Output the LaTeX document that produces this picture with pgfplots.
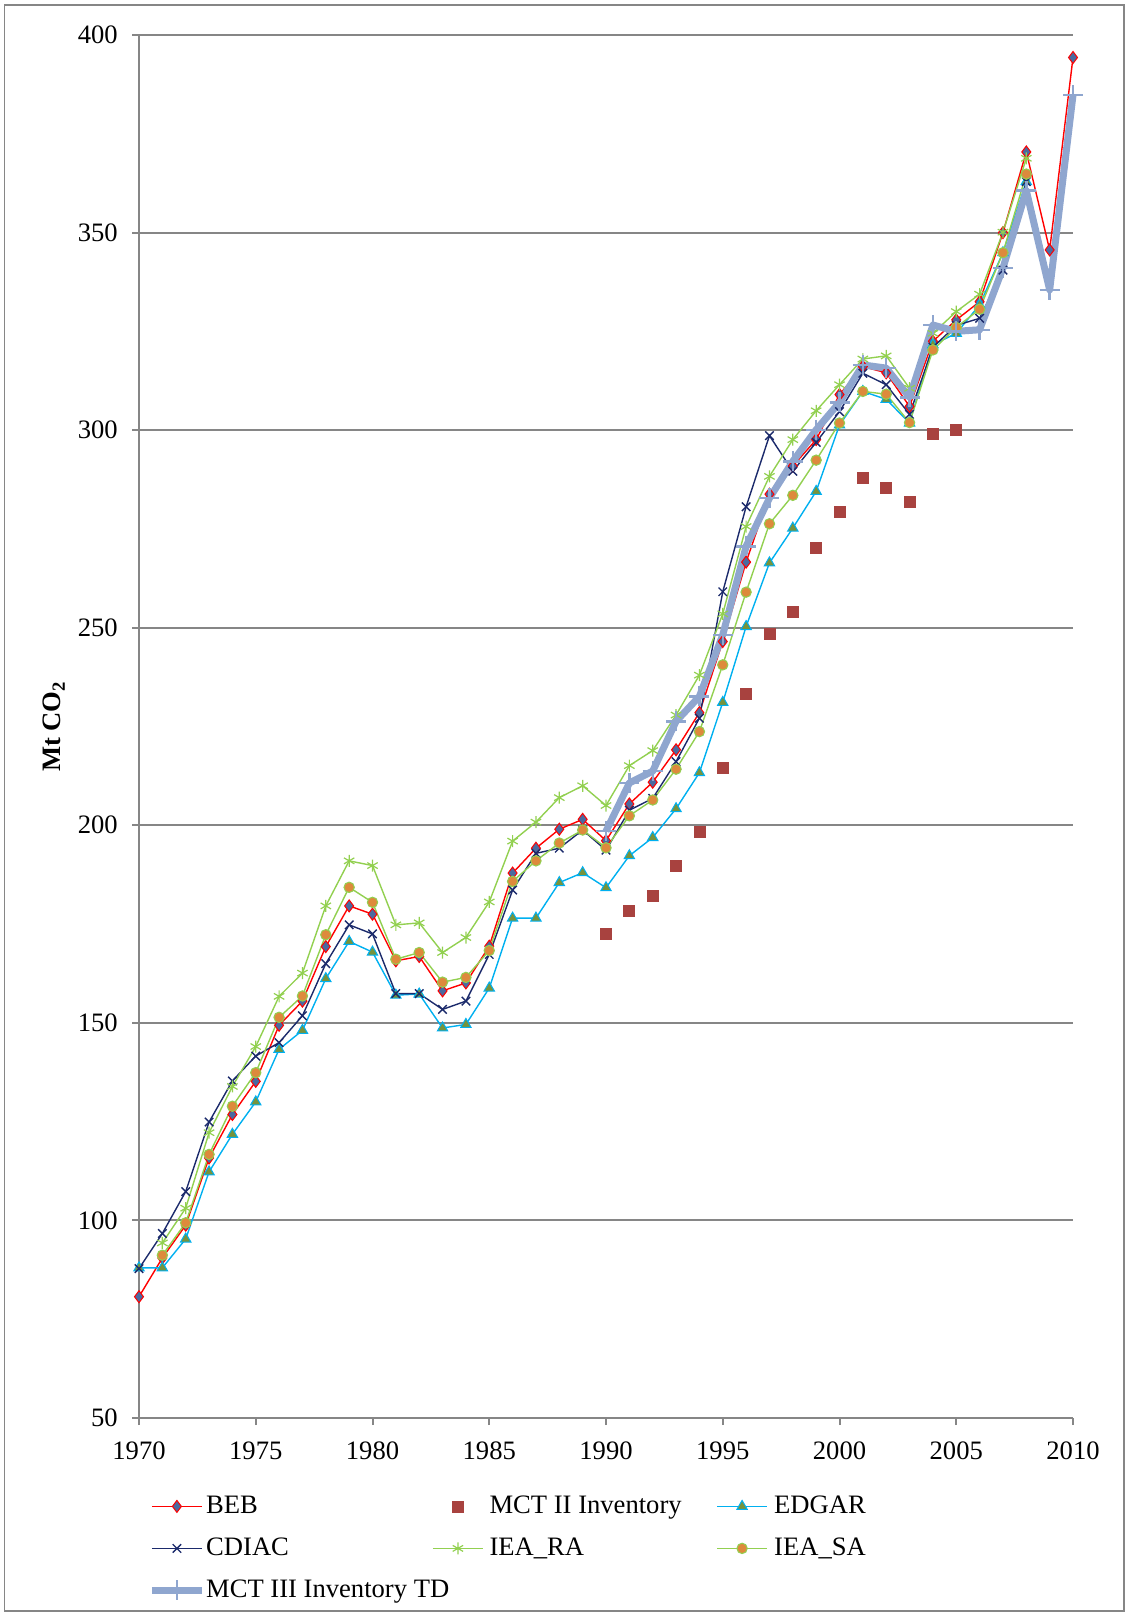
\documentclass[border=0pt]{standalone}
\usepackage{fontspec}
\setmainfont{Liberation Serif}
\usepackage{pgfplots}
\pgfplotsset{compat=1.18}
\usetikzlibrary{plotmarks}
\definecolor{gridgray}{HTML}{868686}
\definecolor{bebred}{HTML}{FF0000}
\definecolor{bebfill}{HTML}{4A6AA0}
\definecolor{mcttwo}{HTML}{A8423F}
\definecolor{edgar}{HTML}{00B0F0}
\definecolor{edgarfill}{HTML}{77933C}
\definecolor{cdiac}{HTML}{1B2A6B}
\definecolor{ieagreen}{HTML}{92D050}
\definecolor{ieaorange}{HTML}{DD8A3C}
\definecolor{mctthree}{HTML}{8FA6CF}
\begin{document}
\fontsize{13.3pt}{16pt}\selectfont
\begin{tikzpicture}
\useasboundingbox (-69.5pt,-99pt) rectangle (495pt,709pt);
\draw[gridgray, line width=0.75pt] (-67.25pt,-96.5pt) rectangle (492.5pt,706.5pt);
\begin{axis}[
  at={(0pt,0pt)}, anchor=south west,
  scale only axis, width=467pt, height=691.5pt,
  xmin=1970, xmax=2010, ymin=50, ymax=400,
  xtick={1970,1975,...,2010}, ytick={50,100,...,400},
  axis x line*=bottom, axis y line*=left,
  axis line style={gridgray, line width=1pt, -},
  ymajorgrids, grid style={gridgray, line width=1pt},
  tick style={gridgray, line width=1pt},
  tick align=outside, major tick length=3.5pt,
  /pgf/number format/assume math mode=true,
  /pgf/number format/set thousands separator={},
  ticklabel style={font=\fontsize{13.3pt}{16pt}\selectfont},
  xticklabel style={yshift=-4pt},
  yticklabel style={xshift=-2.5pt},
  ylabel={\textbf{Mt CO\textsubscript{2}}},
  every axis y label/.style={at={(axis description cs:-0.091,0.5)}, rotate=90, anchor=center, font=\fontsize{13.3pt}{16pt}\selectfont},
  clip=false,
  legend columns=3,
  legend cell align=left,
  legend style={at={(0,0)}, anchor=north west, xshift=4.5pt, yshift=-37.5pt,
    draw=none, fill=none, inner sep=0pt, row sep=8pt,
    nodes={inner sep=0pt, text height=10pt, text depth=3pt},
    /tikz/every odd column/.append style={column sep=0.4pt},
    /tikz/every even column/.append style={column sep=3pt},
    font=\fontsize{13.3pt}{16pt}\selectfont},
  legend image code/.code={\draw[mark repeat=2,mark phase=2,#1] plot coordinates {(0pt,0pt) (12.5pt,0pt) (25pt,0pt)};},
]
% BEB
\addplot[color=bebred, line width=0.7pt, mark=diamond*, mark size=3pt, mark options={fill=bebfill, draw=bebred, line width=0.5pt}] coordinates {
(1970,80.7) (1971,90.5) (1972,98.8) (1973,115.8) (1974,126.8) (1975,135.2) (1976,149.4) (1977,155.5) (1978,169.3) (1979,179.6)
(1980,177.5) (1981,165.7) (1982,166.8) (1983,158.1) (1984,160.1) (1985,169.4) (1986,187.9) (1987,194.2) (1988,199.0) (1989,201.5)
(1990,196.1) (1991,205.4) (1992,210.9) (1993,219.1) (1994,228.5) (1995,246.5) (1996,266.6) (1997,283.8) (1998,290.9) (1999,297.6)
(2000,309.0) (2001,316.1) (2002,314.5) (2003,306.0) (2004,322.5) (2005,327.9) (2006,332.5) (2007,350.0) (2008,370.4) (2009,345.6) (2010,394.3)};
\addlegendentry{\makebox[110pt][l]{BEB}}
% MCT II
\addplot[only marks, mark=square*, mark size=2.75pt, color=mcttwo] coordinates {
(1990,172.4) (1991,178.3) (1992,182.1) (1993,189.7) (1994,198.3) (1995,214.5) (1996,233.2) (1997,248.4) (1998,254.0) (1999,270.2)
(2000,279.2) (2001,287.9) (2002,285.4) (2003,281.8) (2004,299.0) (2005,300.0)};
\addlegendentry{\makebox[113pt][l]{\hspace{2.6pt}MCT II Inventory}}
% EDGAR
\addplot[color=edgar, line width=0.7pt, mark=triangle*, mark size=3pt, mark options={fill=edgarfill, draw=edgar, line width=0.5pt}] coordinates {
(1970,88.0) (1971,88.0) (1972,95.3) (1973,112.3) (1974,121.8) (1975,130.0) (1976,143.3) (1977,148.1) (1978,161.2) (1979,170.6)
(1980,167.9) (1981,157.0) (1982,157.3) (1983,148.7) (1984,149.6) (1985,158.8) (1986,176.5) (1987,176.5) (1988,185.5) (1989,188.0)
(1990,184.2) (1991,192.3) (1992,196.9) (1993,204.2) (1994,213.3) (1995,231.1) (1996,250.3) (1997,266.4) (1998,275.2) (1999,284.5)
(2000,301.3) (2001,309.8) (2002,307.8) (2003,301.8) (2004,321.6) (2005,324.5) (2006,331.7) (2007,344.9) (2008,362.9)};
\addlegendentry{\makebox[110pt][l]{\hspace{2.8pt}EDGAR}}
% CDIAC
\addplot[color=cdiac, line width=0.7pt, mark=x, mark size=3pt, mark options={line width=0.7pt}] coordinates {
(1970,87.8) (1971,96.7) (1972,107.3) (1973,124.9) (1974,135.3) (1975,141.6) (1976,145.0) (1977,151.8) (1978,165.0) (1979,174.8)
(1980,172.5) (1981,157.4) (1982,157.4) (1983,153.4) (1984,155.5) (1985,167.3) (1986,183.6) (1987,192.9) (1988,194.2) (1989,198.8)
(1990,193.7) (1991,203.8) (1992,206.8) (1993,216.1) (1994,227.1) (1995,259.1) (1996,280.6) (1997,298.6) (1998,289.6) (1999,296.9)
(2000,304.7) (2001,314.4) (2002,311.5) (2003,304.0) (2004,321.0) (2005,326.5) (2006,328.3) (2007,340.5) (2008,362.9)};
\addlegendentry{\makebox[110pt][l]{CDIAC}}
% IEA_RA
\addplot[color=ieagreen, line width=0.7pt, mark=asterisk, mark size=3pt, mark options={line width=0.6pt}] coordinates {
(1971,94.3) (1972,103.1) (1973,122.2) (1974,133.9) (1975,144.0) (1976,156.7) (1977,162.6) (1978,179.6) (1979,191.0)
(1980,189.8) (1981,174.8) (1982,175.3) (1983,167.8) (1984,171.6) (1985,180.6) (1986,196.0) (1987,200.8) (1988,207.0) (1989,210.0)
(1990,205.0) (1991,215.1) (1992,218.9) (1993,227.9) (1994,238.0) (1995,253.5) (1996,275.6) (1997,288.3) (1998,297.6) (1999,304.9)
(2000,311.5) (2001,318.0) (2002,318.8) (2003,310.6) (2004,324.5) (2005,330.0) (2006,334.4) (2007,350.1) (2008,368.8)};
\addlegendentry{\makebox[113pt][l]{\hspace{2.6pt}IEA\_RA}}
% IEA_SA
\addplot[color=ieagreen, line width=0.7pt, mark=*, mark size=2.6pt, mark options={fill=ieaorange, draw=ieagreen, line width=0.5pt}] coordinates {
(1971,91.2) (1972,99.4) (1973,116.7) (1974,128.9) (1975,137.4) (1976,151.4) (1977,156.8) (1978,172.3) (1979,184.3)
(1980,180.5) (1981,166.1) (1982,167.8) (1983,160.3) (1984,161.5) (1985,168.3) (1986,185.8) (1987,191.0) (1988,195.5) (1989,198.8)
(1990,194.3) (1991,202.4) (1992,206.4) (1993,214.2) (1994,223.7) (1995,240.6) (1996,259.0) (1997,276.3) (1998,283.5) (1999,292.4)
(2000,301.8) (2001,309.8) (2002,309.1) (2003,301.9) (2004,320.3) (2005,326.0) (2006,330.6) (2007,344.9) (2008,364.8)};
\addlegendentry{\makebox[110pt][l]{\hspace{2.8pt}IEA\_SA}}
% MCT III
\addplot[color=mctthree, line width=3.5pt, line join=round, mark=+, mark size=5pt, mark options={line width=1.2pt}] coordinates {
(1990,198.5) (1991,210.7) (1992,213.7) (1993,226.3) (1994,232.6) (1995,248.2) (1996,270.6) (1997,282.8) (1998,292.1) (1999,300.1)
(2000,307.0) (2001,316.5) (2002,315.7) (2003,308.3) (2004,326.6) (2005,325.0) (2006,325.4) (2007,341.0) (2008,360.6) (2009,335.5) (2010,384.8)};
\addlegendentry{\makebox[110pt][l]{MCT III Inventory TD}}
\end{axis}
\end{tikzpicture}
\end{document}
